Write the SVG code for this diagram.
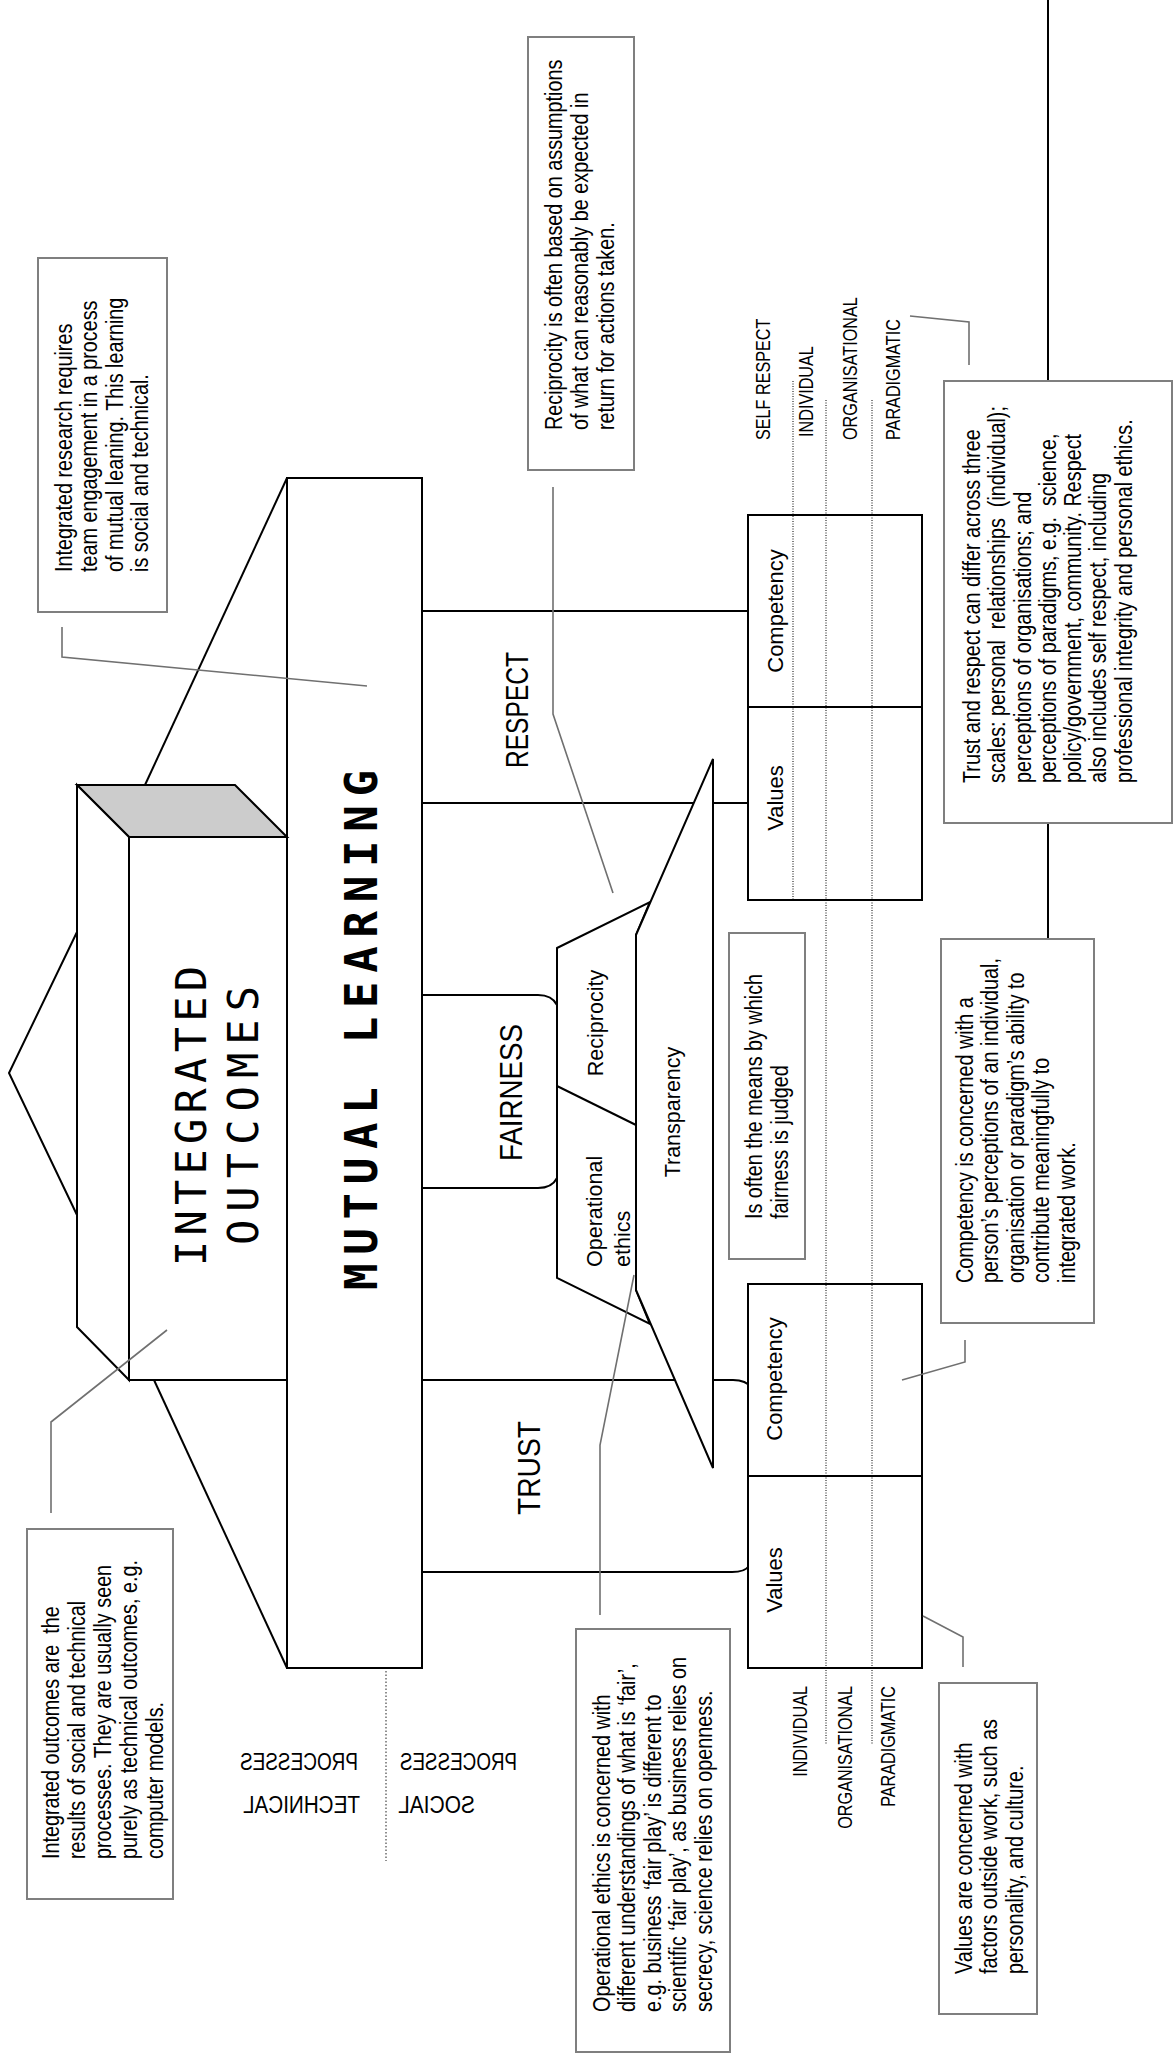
<svg xmlns="http://www.w3.org/2000/svg" width="1175" height="2056" viewBox="0 0 1175 2056">
<defs>
<style>
.k{fill:none;stroke:#000;stroke-width:2}
.kw{fill:#fff;stroke:#000;stroke-width:2}
.cb{fill:#fff;stroke:#7f7f7f;stroke-width:2}
.ld{fill:none;stroke:#707070;stroke-width:1.6}
.dt{stroke:#000;stroke-width:1;stroke-dasharray:1 1.5}
.dg{stroke:#909090;stroke-width:2;stroke-dasharray:1.5 2}
.t{font-family:"Liberation Sans",Arial,sans-serif;font-size:23px;fill:#000}
.f{font-family:"Liberation Sans",Arial,sans-serif;font-size:21.5px;fill:#000}
.lb{font-family:"Liberation Sans",Arial,sans-serif;font-size:20px;fill:#000}
.big{font-family:"Liberation Sans",Arial,sans-serif;font-size:32px;fill:#000}
.mir{font-family:"Liberation Sans",Arial,sans-serif;font-size:23px;fill:#000}
.mono{font-family:"DejaVu Sans Mono","Liberation Mono",monospace;font-size:42px;fill:#000}
.ml{font-family:"DejaVu Sans Mono","Liberation Mono",monospace;font-size:44px;font-weight:bold;fill:#000}
</style>
</defs>
<rect width="1175" height="2056" fill="#fff"/>

<g id="outcomes-frame">
<polyline class="k" points="77,932 9,1073 77,1215"/>
<line class="k" x1="287" y1="478" x2="145" y2="785"/>
<line class="k" x1="154" y1="1380" x2="287" y2="1668"/>
</g>

<g id="mutual-learning">
<rect class="kw" x="287" y="478" width="135" height="1190"/>
<text class="ml" transform="translate(377,1290) rotate(-90)" textLength="520" lengthAdjust="spacing">MUTUAL LEARNING</text>
</g>

<g id="integrated-outcomes">
<polygon points="77,785 235,785 287,837 129,837" fill="#cccccc" stroke="#000" stroke-width="2"/>
<polygon class="kw" points="77,785 129,837 129,1380 77,1327"/>
<rect class="kw" x="129" y="837" width="158" height="543"/>
<text class="mono" transform="translate(206,1266) rotate(-90)" textLength="300" lengthAdjust="spacing">INTEGRATED</text>
<text class="mono" transform="translate(258,1245) rotate(-90)" textLength="259" lengthAdjust="spacing">OUTCOMES</text>
</g>

<g id="connectors">
<line class="k" x1="422" y1="611" x2="748" y2="611"/>
<line class="k" x1="422" y1="803" x2="748" y2="803"/>
<path class="k" d="M422,995 H538 Q552,995 557,1005"/>
<path class="k" d="M422,1188 H538 Q552,1188 557,1178"/>
<path class="k" d="M422,1380 H733 Q746,1380 752,1388"/>
<path class="k" d="M422,1572 H732 Q745,1572 749,1566"/>
<line class="k" x1="1048" y1="0" x2="1048" y2="939"/>
<line class="dg" x1="386" y1="1671" x2="386" y2="1861"/>
</g>

<g id="fairness-shape">
<polygon class="kw" points="557,948 650,902 636,935 636,1290 650,1324 557,1278"/>
<line class="k" x1="557" y1="1086" x2="636" y2="1125"/>
<text class="f" transform="translate(603,1023) rotate(-90)" text-anchor="middle">Reciprocity</text>
<text class="f" transform="translate(602,1267) rotate(-90)"><tspan x="0" y="0">Operational</tspan><tspan x="0" y="28">ethics</tspan></text>
</g>

<g id="transparency">
<polygon class="kw" points="636,935 713,759 713,1468 636,1290"/>
<text class="f" transform="translate(680,1112) rotate(-90)" text-anchor="middle">Transparency</text>
</g>

<g id="labels-main">
<text class="big" transform="translate(528,768) rotate(-90)" textLength="116" lengthAdjust="spacingAndGlyphs">RESPECT</text>
<text class="big" transform="translate(522,1161) rotate(-90)" textLength="137" lengthAdjust="spacingAndGlyphs">FAIRNESS</text>
<text class="big" transform="translate(540,1515) rotate(-90)" textLength="94" lengthAdjust="spacingAndGlyphs">TRUST</text>
</g>

<g id="respect-box">
<rect class="kw" x="748" y="515" width="174" height="385"/>
<line class="k" x1="748" y1="707" x2="922" y2="707"/>
<text class="f" style="font-size:22px" transform="translate(783,611) rotate(-90)" text-anchor="middle">Competency</text>
<text class="f" style="font-size:22px" transform="translate(783,798) rotate(-90)" text-anchor="middle">Values</text>
</g>

<g id="trust-box">
<rect class="kw" x="748" y="1284" width="174" height="384"/>
<line class="k" x1="748" y1="1476" x2="922" y2="1476"/>
<text class="f" style="font-size:22px" transform="translate(782,1379) rotate(-90)" text-anchor="middle">Competency</text>
<text class="f" style="font-size:22px" transform="translate(782,1580) rotate(-90)" text-anchor="middle">Values</text>
</g>

<g id="scale-lines">
<line class="dt" x1="793" y1="381" x2="793" y2="900"/>
<line class="dt" x1="826" y1="400" x2="826" y2="1745"/>
<line class="dt" x1="872" y1="400" x2="872" y2="1745"/>
</g>

<g id="scale-labels">
<text class="lb" transform="translate(770,440) rotate(-90) scale(0.81,1)">SELF RESPECT</text>
<text class="lb" transform="translate(813,437) rotate(-90) scale(0.81,1)">INDIVIDUAL</text>
<text class="lb" transform="translate(857,440) rotate(-90) scale(0.81,1)">ORGANISATIONAL</text>
<text class="lb" transform="translate(900,440) rotate(-90) scale(0.81,1)">PARADIGMATIC</text>
<text class="lb" transform="translate(807,1686) rotate(-90) scale(0.81,1)" text-anchor="end">INDIVIDUAL</text>
<text class="lb" transform="translate(852,1686) rotate(-90) scale(0.81,1)" text-anchor="end">ORGANISATIONAL</text>
<text class="lb" transform="translate(895,1686) rotate(-90) scale(0.81,1)" text-anchor="end">PARADIGMATIC</text>
</g>

<g id="process-labels">
<text class="mir" transform="translate(358,1770) scale(-1,1)" textLength="118" lengthAdjust="spacingAndGlyphs">PROCESSES</text>
<text class="mir" transform="translate(360,1813) scale(-1,1)" textLength="117" lengthAdjust="spacingAndGlyphs">TECHNICAL</text>
<text class="mir" transform="translate(517,1770) scale(-1,1)" textLength="117" lengthAdjust="spacingAndGlyphs">PROCESSES</text>
<text class="mir" transform="translate(475,1813) scale(-1,1)" textLength="77" lengthAdjust="spacingAndGlyphs">SOCIAL</text>
</g>

<g id="leaders">
<polyline class="ld" points="62,627 62,657 367,686"/>
<polyline class="ld" points="167,1330 51,1422 51,1513"/>
<polyline class="ld" points="553,487 553,714 613,893"/>
<polyline class="ld" points="600,1615 600,1445 634,1275"/>
<polyline class="ld" points="910,316 969,322 969,365"/>
<polyline class="ld" points="965,1340 965,1362 902,1380"/>
<polyline class="ld" points="963,1667 963,1637 923,1616"/>
</g>

<g id="note-mutual-learning">
<rect class="cb" x="38" y="258" width="129" height="354"/>
<text class="t" transform="translate(72,572) rotate(-90) scale(0.86,1)"><tspan x="0" y="0">Integrated research requires</tspan><tspan x="0" y="25.5">team engagement in a process</tspan><tspan x="0" y="51">of mutual leaning. This learning</tspan><tspan x="0" y="76.5">is social and technical.</tspan></text>
</g>

<g id="note-integrated-outcomes">
<rect class="cb" x="27" y="1529" width="146" height="370"/>
<text class="t" transform="translate(59,1859) rotate(-90) scale(0.86,1)"><tspan x="0" y="0">Integrated outcomes are&#160; the</tspan><tspan x="0" y="26">results of social and technical</tspan><tspan x="0" y="52">processes. They are usually seen</tspan><tspan x="0" y="78">purely as technical outcomes, e.g.</tspan><tspan x="0" y="104">computer models.</tspan></text>
</g>

<g id="note-reciprocity">
<rect class="cb" x="528" y="37" width="106" height="433"/>
<text class="t" transform="translate(562,430) rotate(-90) scale(0.86,1)"><tspan x="0" y="0">Reciprocity is often based on assumptions</tspan><tspan x="0" y="26">of what can reasonably be expected in</tspan><tspan x="0" y="52">return for actions taken.</tspan></text>
</g>

<g id="note-trust-respect">
<rect class="cb" x="944" y="381" width="228" height="442"/>
<text class="t" transform="translate(980,783) rotate(-90) scale(0.86,1)"><tspan x="0" y="0">Trust and respect can differ across three</tspan><tspan x="0" y="25.3">scales: personal&#160; relationships&#160; (individual);</tspan><tspan x="0" y="50.6">perceptions of organisations; and</tspan><tspan x="0" y="75.9">perceptions of paradigms, e.g.&#160; science,</tspan><tspan x="0" y="101.2">policy/government, community. Respect</tspan><tspan x="0" y="126.5">also includes self respect, including</tspan><tspan x="0" y="151.8">professional integrity and personal ethics.</tspan></text>
</g>

<g id="note-fairness">
<rect class="cb" x="729" y="933" width="76" height="326"/>
<text class="t" transform="translate(762,1219) rotate(-90) scale(0.86,1)"><tspan x="0" y="0">Is often the means by which</tspan><tspan x="0" y="26">fairness is judged</tspan></text>
</g>

<g id="note-competency">
<rect class="cb" x="941" y="939" width="153" height="384"/>
<text class="t" transform="translate(973,1283) rotate(-90) scale(0.86,1)"><tspan x="0" y="0">Competency is concerned with a</tspan><tspan x="0" y="25.5">person’s perceptions of an individual,</tspan><tspan x="0" y="51">organisation or paradigm’s ability to</tspan><tspan x="0" y="76.5">contribute meaningfully to</tspan><tspan x="0" y="102">integrated work.</tspan></text>
</g>

<g id="note-values">
<rect class="cb" x="939" y="1683" width="98" height="331"/>
<text class="t" transform="translate(972,1974) rotate(-90) scale(0.86,1)"><tspan x="0" y="0">Values are concerned with</tspan><tspan x="0" y="25.5">factors outside work, such as</tspan><tspan x="0" y="51">personality, and culture.</tspan></text>
</g>

<g id="note-operational-ethics">
<rect class="cb" x="576" y="1629" width="154" height="423"/>
<text class="t" transform="translate(610,2012) rotate(-90) scale(0.86,1)"><tspan x="0" y="0">Operational ethics is concerned with</tspan><tspan x="0" y="25.5">different understandings of what is ‘fair’,</tspan><tspan x="0" y="51">e.g. business ‘fair play’ is different to</tspan><tspan x="0" y="76.5">scientific ‘fair play’, as business relies on</tspan><tspan x="0" y="102">secrecy, science relies on openness.</tspan></text>
</g>
</svg>
